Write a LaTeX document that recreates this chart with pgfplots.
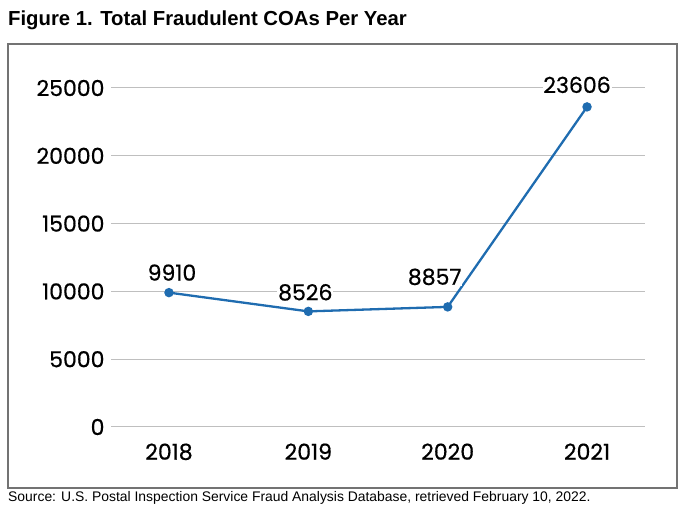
\documentclass[border=0pt]{standalone}
\usepackage{fontspec}
\setmainfont{Liberation Sans}
\newfontfamily\pop{Poppins}[FakeBold=0.6]
\usepackage{pgfplots}
\pgfplotsset{compat=1.18}
\definecolor{lineblue}{RGB}{31,108,176}
\pgfplotstableread{
x y dx dy
0 9910 3 20
1 8526 -3 19
2 8857 -13 30
3 23606 -10 22
}\datatable
\begin{document}
\begin{tikzpicture}[x=1pt,y=1pt]
\useasboundingbox (0,0) rectangle (700,521);
\node[anchor=base west, inner sep=0, font=\bfseries\fontsize{20.3}{23}\selectfont] at (8,495.5) {Figure 1. Total Fraudulent COAs Per Year};
\draw[black!55, line width=1.2pt] (8,33) rectangle (677,477);
\node[anchor=base west, inner sep=0, font=\fontsize{13.9}{16}\selectfont] at (8,19) {Source: U.S. Postal Inspection Service Fraud Analysis Database, retrieved February 10, 2022.};
\begin{axis}[at={(111pt,94pt)}, anchor=south west, scale only axis,
  width=534pt, height=339pt,
  xmin=-0.416, xmax=3.416, ymin=0, ymax=25000,
  xtick={0,1,2,3}, xticklabels={2018,2019,2020,2021},
  ytick={0,5000,10000,15000,20000,25000},
  ymajorgrids, grid style={black!25, line width=1pt},
  axis line style={draw=none}, major tick length=0pt,
  tick label style={font=\pop\fontsize{22}{26}\selectfont},
  /pgf/number format/assume math mode=true,
  /pgf/number format/set thousands separator={},
  scaled y ticks=false,
  yticklabel style={xshift=-3pt},
  xticklabel style={yshift=-13pt},
  clip=false,
]
\addplot[lineblue, line width=2.3pt, mark=*, mark size=3.5pt,
  nodes near coords,
  visualization depends on={\thisrow{dx} \as \dx},
  visualization depends on={\thisrow{dy} \as \dy},
  every node near coord/.append style={font=\pop\fontsize{22}{26}\selectfont, fill=white, inner sep=0.8pt, anchor=center, xshift=\dx pt, yshift=\dy pt, text=black},
] table[x=x, y=y, meta=y] {\datatable};
\end{axis}
\end{tikzpicture}
\end{document}
